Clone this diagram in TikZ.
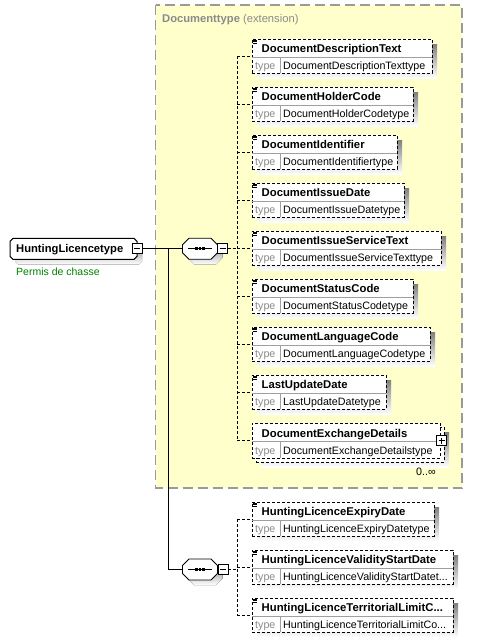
\documentclass[tikz,border=0pt]{standalone}
\usepackage{fontspec}
\setmainfont{Liberation Sans}
\definecolor{ybg}{HTML}{FFFFCC}
\definecolor{yborder}{HTML}{9A9A9A}
\definecolor{shade}{HTML}{C0C0C0}
\definecolor{tgray}{HTML}{8A8A8A}
\definecolor{dgreen}{HTML}{008000}
\newcommand\xelem[6]{%
  \fill[shade] (#2+5,#3+5) rectangle (#4+5,#3+39);
  \node[elbox,minimum width={#4-#2}] (#1) at (#2,#3) {};
  \draw[divline] (#2,#3+18) -- (#4,#3+18) (#2+28,#3+18) -- (#2+28,#3+34);
  \node[ttl] at (#2+9.5,#3+13) {#5};
  \node[typelbl] at (#2+3,#3+30.5) {type};
  \node[typetxt] at (#2+31,#3+30.5) {#6};
  \foreach \k in {1,2.5,4} \draw[line width=0.6pt] (#2+0.5,#3+\k) -- (#2+5,#3+\k);
}
\newcommand\octbox[6]{% x1 y1 x2 y2 chamfer linewidth
  \fill[shade,shift={(5,5)}] (#1+#5,#2) -- (#3-#5,#2) -- (#3,#2+#5) -- (#3,#4-#5) -- (#3-#5,#4) -- (#1+#5,#4) -- (#1,#4-#5) -- (#1,#2+#5) -- cycle;
  \filldraw[fill=white,line width=#6] (#1+#5,#2) -- (#3-#5,#2) -- (#3,#2+#5) -- (#3,#4-#5) -- (#3-#5,#4) -- (#1+#5,#4) -- (#1,#4-#5) -- (#1,#2+#5) -- cycle;
}
\begin{document}
\begin{tikzpicture}[x=1pt,y=-1pt,
  elbox/.style={draw,dash pattern=on 3pt off 2pt,line width=0.8pt,fill=white,inner sep=0pt,outer sep=0pt,anchor=north west,minimum height=34pt},
  divline/.style={draw=gray!75,line width=0.8pt},
  ttl/.style={anchor=base west,inner sep=0pt,font=\fontsize{11.3}{13}\selectfont\bfseries},
  typelbl/.style={anchor=base west,inner sep=0pt,text=tgray,font=\fontsize{10.7}{12}\selectfont},
  typetxt/.style={anchor=base west,inner sep=0pt,font=\fontsize{10.7}{12}\selectfont},
  conn/.style={line width=0.8pt,dash pattern=on 3pt off 2pt},
  solidconn/.style={line width=1pt},
  holder/.style={rectangle,inner sep=0pt,outer sep=0pt},
  pm/.style={draw,fill=white,rectangle,minimum size=10pt,inner sep=0pt,outer sep=0pt,line width=0.8pt},
]
\useasboundingbox (0,0) rectangle (482,643);
% extension container
\draw[draw=yborder,fill=ybg,line width=1.2pt,dash pattern=on 10pt off 5pt] (155.5,5) rectangle (462,488);
\node[anchor=base west,inner sep=0pt,text=tgray,font=\fontsize{11.2}{13}\selectfont] (exttitle) at (162,22) {\textbf{Documenttype} (extension)};

% root
\octbox{10}{238.3}{137}{259.3}{3}{1pt}
\node[holder,minimum width=127pt,minimum height=21pt] (root) at (73.5,248.8) {};
\node[anchor=base west,inner sep=0pt,font=\fontsize{11.2}{13}\selectfont\bfseries] (roottxt) at (16,252.5) {HuntingLicencetype};
\node[anchor=base west,inner sep=0pt,text=dgreen,font=\fontsize{10.5}{12}\selectfont] (rootdoc) at (16,275.5) {Permis de chasse};

% sequences
\octbox{182.5}{238.3}{217.5}{259.3}{6.5}{0.8pt}
\node[holder,minimum width=35pt,minimum height=21pt] (s1) at (200,248.8) {};
\octbox{182.5}{559}{217.5}{580}{6.5}{0.8pt}
\node[holder,minimum width=35pt,minimum height=21pt] (s2) at (200,569.5) {};
\foreach \s in {s1,s2}{
  \draw[line width=0.8pt] ([xshift=-12pt]\s.center) -- ([xshift=12pt]\s.center);
  \foreach \d in {-3.4,0,3.4}
    \fill ([xshift=\d pt]\s.center) ++(-1.3,-1.4) rectangle ++(2.6,2.8);
}

% root connectors
\coordinate (j) at (168.3,248.8);
\draw[solidconn] (root.east) -- (s1.west);
\draw[solidconn] (j) |- (s2.west);
\node[pm] (rm) at (137,248.8) {};
\draw[line width=0.8pt] ([xshift=-3pt]rm.center) -- ([xshift=3pt]rm.center);

\node[pm] (m1) at (222.5,248.5) {};
\draw[line width=0.8pt] ([xshift=-3pt]m1.center) -- ([xshift=3pt]m1.center);
\node[pm] (m2) at (223,569) {};
\draw[line width=0.8pt] ([xshift=-3pt]m2.center) -- ([xshift=3pt]m2.center);

% elements of group 1
\xelem{e1}{252}{39}{432}{DocumentDescriptionText}{DocumentDescriptionTexttype}
\xelem{e2}{252}{87}{413}{DocumentHolderCode}{DocumentHolderCodetype}
\xelem{e3}{252}{135}{397}{DocumentIdentifier}{DocumentIdentifiertype}
\xelem{e4}{252}{183}{404}{DocumentIssueDate}{DocumentIssueDatetype}
\xelem{e5}{252}{231}{441}{DocumentIssueServiceText}{DocumentIssueServiceTexttype}
\xelem{e6}{252}{279}{413}{DocumentStatusCode}{DocumentStatusCodetype}
\xelem{e7}{252}{327}{430}{DocumentLanguageCode}{DocumentLanguageCodetype}
\xelem{e8}{252}{375}{386}{LastUpdateDate}{LastUpdateDatetype}
% multiple element (stacked)
\fill[shade] (261,432) rectangle (449,467);
\node[elbox,minimum width=188pt,minimum height=35pt] (e9back) at (256,427) {};
\node[elbox,minimum width=188pt,minimum height=35pt] (e9) at (252,423) {};
\draw[divline] (252,441) -- (440,441) (280,441) -- (280,458);
\node[ttl] at (261.5,437) {DocumentExchangeDetails};
\node[typelbl] at (255,454.5) {type};
\node[typetxt] at (283,454.5) {DocumentExchangeDetailstype};
\node[pm] (p9) at (441.5,440.5) {};
\draw[line width=0.8pt] ([xshift=-3pt]p9.center) -- ([xshift=3pt]p9.center) ([yshift=-3pt]p9.center) -- ([yshift=3pt]p9.center);
\node[anchor=base west,inner sep=0pt,font=\fontsize{10.7}{12}\selectfont] (occ) at (416,475.5) {0..∞};

% group 1 connectors
\coordinate (v1) at (237.3,248.5);
\draw[conn] (m1.east) -- (v1);
\draw[conn] (v1 |- e1.west) -- (v1 |- e9.west);
\foreach \e in {e1,e2,e3,e4,e5,e6,e7,e8,e9}
  \draw[conn] (v1 |- \e.west) -- (\e.west);

% elements of group 2
\xelem{f1}{252}{502}{434}{HuntingLicenceExpiryDate}{HuntingLicenceExpiryDatetype}
\xelem{f2}{252}{550}{453}{HuntingLicenceValidityStartDate}{HuntingLicenceValidityStartDatet...}
\xelem{f3}{252}{598}{453}{HuntingLicenceTerritorialLimitC...}{HuntingLicenceTerritorialLimitCo...}

\coordinate (v2) at (237.3,569);
\draw[conn] (m2.east) -- (v2);
\draw[conn] (v2 |- f1.west) -- (v2 |- f3.west);
\foreach \e in {f1,f2,f3}
  \draw[conn] (v2 |- \e.west) -- (\e.west);
\end{tikzpicture}
\end{document}
